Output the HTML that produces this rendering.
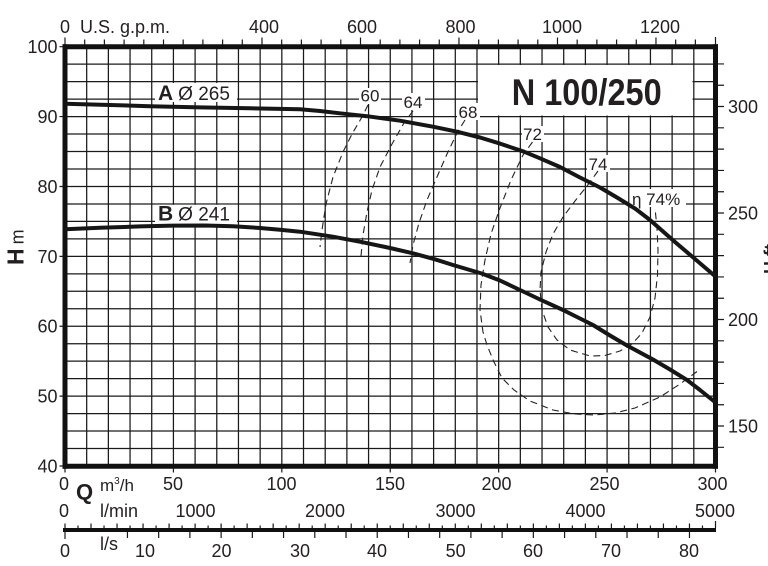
<!DOCTYPE html>
<html><head><meta charset="utf-8"><style>
html,body{margin:0;padding:0;background:#fff;}
svg{display:block;}
</style></head><body>
<svg width="768" height="566" viewBox="0 0 768 566" xmlns="http://www.w3.org/2000/svg" font-family="'Liberation Sans', Arial, sans-serif" fill="#231f20">
<rect width="768" height="566" fill="#fff"/>
<!-- grid -->
<g stroke="#1a1a1a" stroke-width="1.25" fill="none">
<path d="M86.68 47V466M108.37 47V466M130.05 47V466M151.73 47V466M173.42 47V466M195.1 47V466M216.78 47V466M238.46 47V466M260.15 47V466M281.83 47V466M303.51 47V466M325.2 47V466M346.88 47V466M368.56 47V466M390.25 47V466M411.93 47V466M433.61 47V466M455.29 47V466M476.98 47V466M498.66 47V466M520.34 47V466M542.03 47V466M563.71 47V466M585.39 47V466M607.08 47V466M628.76 47V466M650.44 47V466M672.12 47V466M693.81 47V466"/>
<path d="M65 64.17H715M65 81.64H715M65 99.11H715M65 116.58H715M65 134.05H715M65 151.52H715M65 168.99H715M65 186.47H715M65 203.94H715M65 221.41H715M65 238.88H715M65 256.35H715M65 273.82H715M65 291.29H715M65 308.76H715M65 326.23H715M65 343.7H715M65 361.17H715M65 378.64H715M65 396.12H715M65 413.59H715M65 431.06H715M65 448.53H715"/>
</g>
<!-- white label boxes -->
<g fill="#fff">
<rect x="478" y="65" width="214.5" height="50.5"/>
<rect x="155" y="83" width="82" height="19"/>
<rect x="155" y="204.8" width="82" height="19.2"/>
<rect x="359" y="88" width="22" height="16"/>
<rect x="402" y="93" width="23" height="17"/>
<rect x="457" y="103" width="23" height="17"/>
<rect x="522" y="126" width="22" height="16"/>
<rect x="587" y="155" width="23" height="17"/>
<rect x="630" y="189" width="56" height="18"/>
</g>
<!-- frame -->
<g stroke="#111" stroke-width="5" fill="none">
<path d="M62.5 46.7H718"/>
<path d="M62.5 466.3H718"/>
<path d="M65 44.2V468.8"/>
<path d="M715.5 44.2V468.8"/>
</g>
<!-- top ticks gpm -->
<g stroke="#1a1a1a" stroke-width="1.2">
<path d="M65 37.5V44.5M84.7 39.5V44.5M104.4 39.5V44.5M124.1 39.5V44.5M143.8 39.5V44.5M163.5 39.5V44.5M183.19 39.5V44.5M202.89 39.5V44.5M222.59 39.5V44.5M242.29 39.5V44.5M261.99 37.5V44.5M281.69 39.5V44.5M301.39 39.5V44.5M321.09 39.5V44.5M340.79 39.5V44.5M360.49 37.5V44.5M380.19 39.5V44.5M399.89 39.5V44.5M419.58 39.5V44.5M439.28 39.5V44.5M458.98 37.5V44.5M478.68 39.5V44.5M498.38 39.5V44.5M518.08 39.5V44.5M537.78 39.5V44.5M557.48 37.5V44.5M577.18 39.5V44.5M596.88 39.5V44.5M616.58 39.5V44.5M636.28 39.5V44.5M655.97 37.5V44.5M675.67 39.5V44.5M695.37 39.5V44.5M715.5 37V44.5"/>
<!-- left ticks -->
<path d="M59.5 46.7H63M59.5 116.58H63M59.5 186.47H63M59.5 256.35H63M59.5 326.23H63M59.5 396.12H63M59.5 466H63"/>
<!-- right ft ticks -->
<path d="M717.5 63.92H724M717.5 85.22H724M717.5 106.52H724M717.5 127.82H724M717.5 149.12H724M717.5 170.42H724M717.5 191.72H724M717.5 213.02H724M717.5 234.32H724M717.5 255.62H724M717.5 276.92H724M717.5 298.22H724M717.5 319.52H724M717.5 340.82H724M717.5 362.12H724M717.5 383.42H724M717.5 404.73H724M717.5 426.02H724M717.5 447.33H724"/>
<!-- bottom m3/h ticks -->
<path d="M65 468.5V472.5M173.42 468.5V472.5M281.83 468.5V472.5M390.25 468.5V472.5M498.66 468.5V472.5M607.08 468.5V472.5M715.5 468.5V472.5"/>
</g>
<!-- l/min & l/s axis -->
<path d="M63 530H716" stroke="#111" stroke-width="4"/>
<g stroke="#1a1a1a" stroke-width="1.2">
<path d="M65 523.5V528M78.01 525.5V528M91.02 523.5V528M104.03 525.5V528M117.04 523.5V528M130.05 525.5V528M143.06 523.5V528M156.07 525.5V528M169.08 523.5V528M182.09 525.5V528M195.1 523.5V528M208.11 525.5V528M221.12 523.5V528M234.13 525.5V528M247.14 523.5V528M260.15 525.5V528M273.16 523.5V528M286.17 525.5V528M299.18 523.5V528M312.19 525.5V528M325.2 523.5V528M338.21 525.5V528M351.22 523.5V528M364.23 525.5V528M377.24 523.5V528M390.25 525.5V528M403.26 523.5V528M416.27 525.5V528M429.28 523.5V528M442.29 525.5V528M455.29 523.5V528M468.3 525.5V528M481.31 523.5V528M494.32 525.5V528M507.33 523.5V528M520.34 525.5V528M533.35 523.5V528M546.36 525.5V528M559.37 523.5V528M572.38 525.5V528M585.39 523.5V528M598.4 525.5V528M611.41 523.5V528M624.42 525.5V528M637.43 523.5V528M650.44 525.5V528M663.45 523.5V528M676.46 525.5V528M689.47 523.5V528M702.48 525.5V528M715.5 521V528"/>
<path d="M65 532V539M127.45 532V538M158.67 532V538M189.89 532V538M221.12 532V538M252.34 532V538M283.56 532V538M314.79 532V538M346.01 532V538M377.24 532V538M408.46 532V538M439.68 532V538M470.91 532V538M502.13 532V538M533.35 532V538M564.58 532V538M595.8 532V538M627.02 532V538M658.25 532V538M689.47 532V538"/>
</g>
<!-- efficiency curves -->
<g stroke="#222" stroke-width="1.1" fill="none" stroke-dasharray="7 4.5">
<polyline points="368,105 362,117 352,134 343,152 333,177 326,204 322,230 320,247"/>
<polyline points="413,111 404,123 392,144 380,167 372,190 367,212 363,235 361,256"/>
<polyline points="465,120 457,133 447,154 437,177 427,200 419,223 413,245 410,263"/>
<polyline points="532.5,142 523,155 511,180 500,208 491,234 485,260 481,285 480,310 483,332 487,345 494,362 502,378 514,390 530,401 553,410 575,414 595,415 615,413 635,408 660,397 680,384 697,371.5"/>
<polyline points="598,171 587,186 575,201 563,217 553,234 546,252 541,272 540,290 542,310 548,327 557,340 570,350 590,356 605,355.5 620,351 632,344 642,333 650,317 655,298 657.5,275 658,250 657,228 655,208"/>
</g>
<!-- pump curves -->
<g stroke="#161616" stroke-width="4" fill="none" stroke-linejoin="round" stroke-linecap="butt">
<polyline points="65,103.8 110,105 150,106.2 200,107.4 250,108.3 300,109.2 320,111 340,113.3 367,116.2 400,120.7 433,126.7 457,131.7 480,137.5 500,143.6 524,151.7 540,158.3 560,167 580,177.5 600,187.5 617,197.5 635,208.5 650,220 675,242 695,259 715.5,276.5"/>
<polyline points="65,229.3 100,227.8 140,226.4 173,225.6 205,225.5 233,226.2 260,228 280,229.8 300,231.7 333,236.7 363,242.3 390,248 413,253.3 435,259.3 453,265 481.7,273.5 500,280.5 520,290 540,299.5 563,310 593,325 610,335.5 627,345.5 653,359.5 670,369.5 687,380 700,390 715.5,402.5"/>
</g>
<!-- text -->
<g font-size="18">
<text x="65" y="33" text-anchor="middle">0</text>
<text x="80" y="33">U.S. g.p.m.</text>
<text x="264" y="33" text-anchor="middle">400</text>
<text x="362" y="33" text-anchor="middle">600</text>
<text x="460.5" y="33" text-anchor="middle">800</text>
<text x="562" y="33" text-anchor="middle">1000</text>
<text x="660" y="33" text-anchor="middle">1200</text>

<text x="57.5" y="53.2" text-anchor="end">100</text>
<text x="57.5" y="123.1" text-anchor="end">90</text>
<text x="57.5" y="193" text-anchor="end">80</text>
<text x="57.5" y="262.9" text-anchor="end">70</text>
<text x="57.5" y="332.7" text-anchor="end">60</text>
<text x="57.5" y="402.6" text-anchor="end">50</text>
<text x="57.5" y="472.5" text-anchor="end">40</text>

<text x="728" y="113">300</text>
<text x="728" y="219.5">250</text>
<text x="728" y="326">200</text>
<text x="728" y="432.5">150</text>

<text x="64" y="490" text-anchor="middle">0</text>
<text x="173" y="490" text-anchor="middle">50</text>
<text x="281.5" y="490" text-anchor="middle">100</text>
<text x="390" y="490" text-anchor="middle">150</text>
<text x="496.5" y="490" text-anchor="middle">200</text>
<text x="604.5" y="490" text-anchor="middle">250</text>
<text x="712.5" y="490" text-anchor="middle">300</text>

<text x="64" y="517" text-anchor="middle">0</text>
<text x="100" y="517">l/min</text>
<text x="195.5" y="517" text-anchor="middle">1000</text>
<text x="325" y="517" text-anchor="middle">2000</text>
<text x="455.5" y="517" text-anchor="middle">3000</text>
<text x="585.5" y="517" text-anchor="middle">4000</text>
<text x="715" y="517" text-anchor="middle">5000</text>

<text x="65" y="557" text-anchor="middle">0</text>
<text x="100" y="550">l/s</text>
<text x="145" y="557" text-anchor="middle">10</text>
<text x="221.5" y="557" text-anchor="middle">20</text>
<text x="300" y="557" text-anchor="middle">30</text>
<text x="377" y="557" text-anchor="middle">40</text>
<text x="455.7" y="557" text-anchor="middle">50</text>
<text x="533" y="557" text-anchor="middle">60</text>
<text x="611" y="557" text-anchor="middle">70</text>
<text x="689" y="557" text-anchor="middle">80</text>
</g>
<text x="76" y="499.5" font-size="22" font-weight="bold">Q</text>
<text x="100" y="491" font-size="17">m<tspan font-size="10" dy="-7">3</tspan><tspan dy="7">/h</tspan></text>

<text transform="translate(23.5,265) rotate(-90)"><tspan font-size="23" font-weight="bold">H</tspan><tspan font-size="18" dx="4">m</tspan></text>
<text transform="translate(777,274) rotate(-90)" font-size="18" font-weight="bold">H ft</text>

<text x="158" y="100"><tspan font-weight="bold" font-size="21">A</tspan><tspan font-size="19" dx="5">Ø 265</tspan></text>
<text x="158" y="220.5"><tspan font-weight="bold" font-size="21">B</tspan><tspan font-size="19" dx="5">Ø 241</tspan></text>

<text x="511.7" y="105" font-size="37" font-weight="bold" textLength="150" lengthAdjust="spacingAndGlyphs">N 100/250</text>

<g font-size="17" text-anchor="middle">
<text x="370" y="101.7">60</text>
<text x="413" y="108">64</text>
<text x="468" y="118">68</text>
<text x="532.5" y="140">72</text>
<text x="598" y="170">74</text>
</g>
<text x="632" y="205" font-size="17">η 74%</text>
</svg>
</body></html>
